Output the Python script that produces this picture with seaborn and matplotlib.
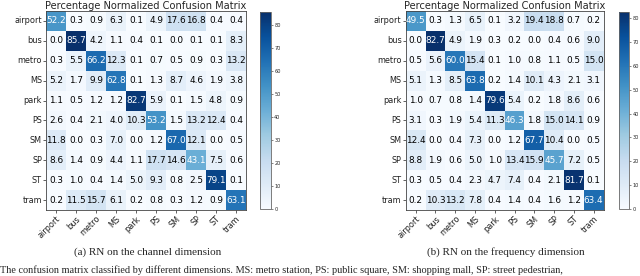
import numpy as np
import pandas as pd
import matplotlib
matplotlib.use("Agg")
import matplotlib.pyplot as plt
import seaborn as sns

labels = ["airport", "bus", "metro", "MS", "park", "PS", "SM", "SP", "ST", "tram"]

# (a) RN on the channel dimension
channel = [
    [52.2, 0.3, 0.9, 6.3, 0.1, 4.9, 17.6, 16.8, 0.4, 0.4],
    [0.0, 85.7, 4.2, 1.1, 0.4, 0.1, 0.0, 0.1, 0.1, 8.3],
    [0.3, 5.5, 66.2, 12.3, 0.1, 0.7, 0.5, 0.9, 0.3, 13.2],
    [5.2, 1.7, 9.9, 62.8, 0.1, 1.3, 8.7, 4.6, 1.9, 3.8],
    [1.1, 0.5, 1.2, 1.2, 82.7, 5.9, 0.1, 1.5, 4.8, 0.9],
    [2.6, 0.4, 2.1, 4.0, 10.3, 53.2, 1.5, 13.2, 12.4, 0.4],
    [11.8, 0.0, 0.3, 7.0, 0.0, 1.2, 67.0, 12.1, 0.0, 0.5],
    [8.6, 1.4, 0.9, 4.4, 1.1, 17.7, 14.6, 43.1, 7.5, 0.6],
    [0.3, 1.0, 0.4, 1.4, 5.0, 9.3, 0.8, 2.5, 79.1, 0.1],
    [0.2, 11.5, 15.7, 6.1, 0.2, 0.8, 0.3, 1.2, 0.9, 63.1],
]

# (b) RN on the frequency dimension
frequency = [
    [49.5, 0.3, 1.3, 6.5, 0.1, 3.2, 19.4, 18.8, 0.7, 0.2],
    [0.0, 82.7, 4.9, 1.9, 0.3, 0.2, 0.0, 0.4, 0.6, 9.0],
    [0.5, 5.6, 60.0, 15.4, 0.1, 1.0, 0.8, 1.1, 0.5, 15.0],
    [5.1, 1.3, 8.5, 63.8, 0.2, 1.4, 10.1, 4.3, 2.1, 3.1],
    [1.0, 0.7, 0.8, 1.4, 79.6, 5.4, 0.2, 1.8, 8.6, 0.6],
    [3.1, 0.3, 1.9, 5.4, 11.3, 46.3, 1.8, 15.0, 14.1, 0.9],
    [12.4, 0.0, 0.4, 7.3, 0.0, 1.2, 67.7, 10.4, 0.0, 0.5],
    [8.8, 1.9, 0.6, 5.0, 1.0, 13.4, 15.9, 45.7, 7.2, 0.5],
    [0.3, 0.5, 0.4, 2.3, 4.7, 7.4, 0.4, 2.1, 81.7, 0.1],
    [0.2, 10.3, 13.2, 7.8, 0.4, 1.4, 0.4, 1.6, 1.2, 63.4],
]

captions = ["(a) RN on the channel dimension", "(b) RN on the frequency dimension"]
bottom_text = ("The confusion matrix classified by different dimensions. MS: metro station, "
               "PS: public square, SM: shopping mall, SP: street pedestrian,")

sns.set_style("white")
fig = plt.figure(figsize=(6.4, 2.76), dpi=100)

panels = [
    (channel, [0.072, 0.239, 0.3125, 0.721], [0.406, 0.243, 0.017, 0.714], 0.23),
    (frequency, [0.634, 0.239, 0.309, 0.721], [0.967, 0.243, 0.016, 0.714], 0.79),
]

for (mat, ax_pos, cb_pos, cap_x), cap in zip(panels, captions):
    df = pd.DataFrame(mat, index=labels, columns=labels)
    ax = fig.add_axes(ax_pos)
    cax = fig.add_axes(cb_pos)
    sns.heatmap(df, ax=ax, cbar_ax=cax, cmap="Blues", annot=True, fmt=".1f",
                annot_kws={"fontsize": 6.4}, vmin=0)
    vmax = df.values.max()
    thresh = vmax / 2
    for t in ax.texts:
        t.set_color("white" if float(t.get_text()) > thresh else "black")
    ax.set_title("Percentage Normalized Confusion Matrix", fontsize=7.1, pad=1.5)
    ax.tick_params(axis="both", length=2, width=0.5, pad=1, labelsize=5.9,
                   left=True, bottom=True, colors="#222222")
    ax.set_xticklabels(labels, rotation=45, ha="right", rotation_mode="anchor")
    ax.set_yticklabels(labels, rotation=0)
    for s in ax.spines.values():
        s.set_visible(True)
        s.set_color("#444444")
        s.set_linewidth(0.6)
    cbar = ax.collections[0].colorbar
    cbar.set_ticks(range(0, 90, 10))
    cbar.outline.set_visible(True)
    cbar.outline.set_edgecolor("#666666")
    cbar.outline.set_linewidth(0.6)
    cax.tick_params(labelsize=3.6, length=1.5, width=0.4, pad=1)
    fig.text(cap_x, 0.087, cap, ha="center", va="center", fontsize=8,
             family="Liberation Serif")

fig.text(0.0, 0.004, bottom_text, ha="left", va="bottom", fontsize=7.4,
         family="Liberation Serif")

fig.savefig("out.png", dpi=100)
